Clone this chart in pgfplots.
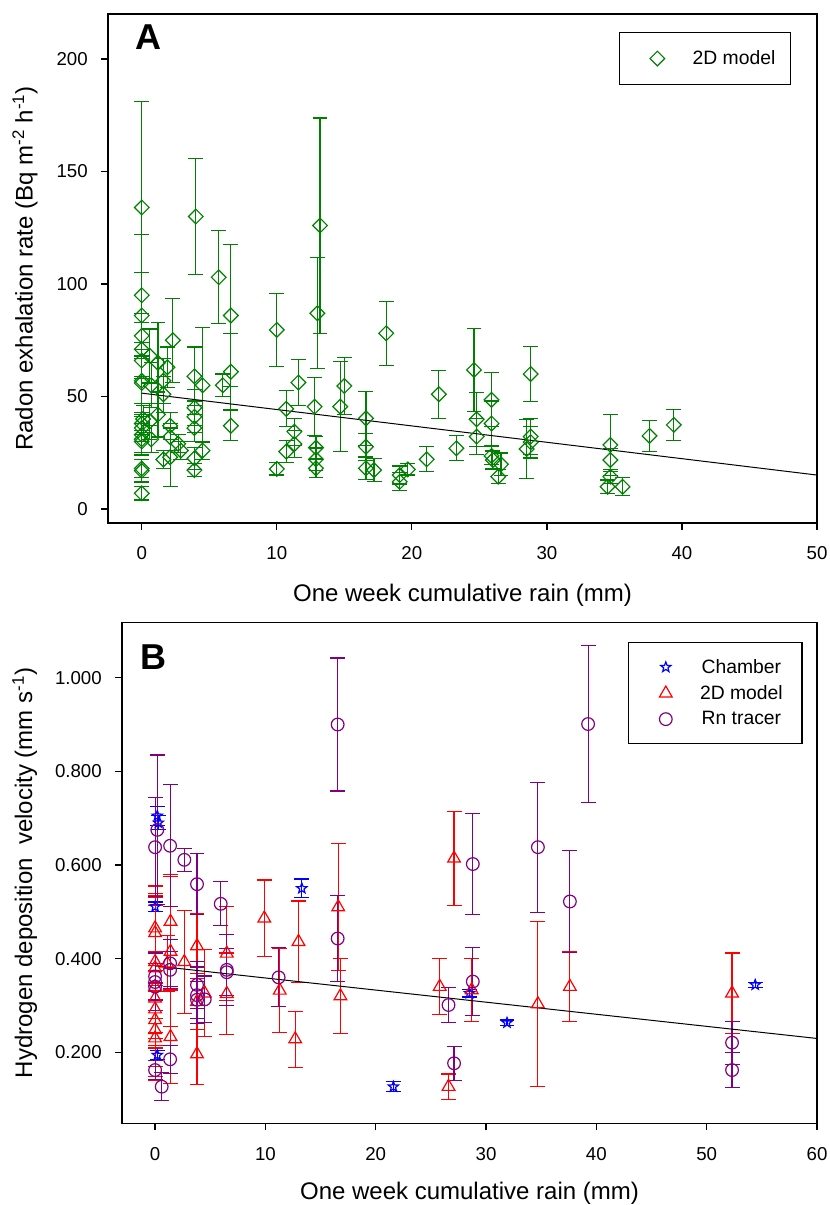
\documentclass[border=0pt]{standalone}
\usepackage{fontspec}
\setmainfont{Liberation Sans}
\usepackage{pgfplots}
\pgfplotsset{compat=1.18}
\definecolor{pgreen}{HTML}{008000}
\definecolor{pred}{HTML}{FF0000}
\definecolor{pblue}{HTML}{0000FF}
\definecolor{ppurple}{HTML}{800080}

% open five-pointed star
\pgfdeclareplotmark{ostar}{%
  \pgfpathmoveto{\pgfqpointpolar{90}{\pgfplotmarksize}}%
  \pgfpathlineto{\pgfqpointpolar{126}{0.42\pgfplotmarksize}}%
  \pgfpathlineto{\pgfqpointpolar{162}{\pgfplotmarksize}}%
  \pgfpathlineto{\pgfqpointpolar{198}{0.42\pgfplotmarksize}}%
  \pgfpathlineto{\pgfqpointpolar{234}{\pgfplotmarksize}}%
  \pgfpathlineto{\pgfqpointpolar{270}{0.42\pgfplotmarksize}}%
  \pgfpathlineto{\pgfqpointpolar{306}{\pgfplotmarksize}}%
  \pgfpathlineto{\pgfqpointpolar{342}{0.42\pgfplotmarksize}}%
  \pgfpathlineto{\pgfqpointpolar{18}{\pgfplotmarksize}}%
  \pgfpathlineto{\pgfqpointpolar{54}{0.42\pgfplotmarksize}}%
  \pgfpathclose
  \pgfusepathqstroke
}

\pgfplotsset{
  panel/.style={
    scale only axis,
    axis line style={line width=0.9pt},
    tick align=outside, tick pos=left,
    major tick length=5.25pt,
    tick style={black, line width=0.9pt},
    tick label style={font=\fontsize{14}{14}\selectfont, inner sep=0pt},
    xticklabel style={yshift=-12.5pt},
    yticklabel style={xshift=-9.75pt},
    label style={font=\fontsize{18}{18}\selectfont},
    /pgf/number format/assume math mode=true,
    ylabel style={anchor=center},
    xlabel style={anchor=center},
  },
  ebars/.style={
    only marks, line width=0.9pt,
    error bars/y dir=both, error bars/y explicit,
    error bars/error bar style={line width=0.85pt},
    error bars/error mark options={rotate=90, mark size=5.6pt, line width=0.85pt},
  },
}

\begin{document}
\begin{tikzpicture}
\useasboundingbox (0,0) rectangle (621.75pt,903.75pt);

% ---------------- panel A ----------------
\begin{axis}[panel,
  at={(81pt,511.5pt)}, anchor=south west,
  width=531.75pt, height=381.75pt,
  xmin=-2.5, xmax=50, ymin=-6.2, ymax=220,
  xtick={0,10,...,50}, ytick={0,50,...,200},
  xlabel={One week cumulative rain (mm)},
  ylabel={Radon exhalation rate (Bq m\textsuperscript{-2} h\textsuperscript{-1})},
  xlabel style={at={(axis description cs:0.5,-0.1415)}},
  ylabel style={at={(axis description cs:-0.117,0.5)}},
  legend style={at={(0.9633,0.9646)}, anchor=north east, draw=black, line width=0.9pt,
    inner xsep=11.25pt, inner ysep=13.5pt, column sep=18pt,
    font=\fontsize{14.5}{17}\selectfont, nodes={inner sep=0pt}},
  legend image code/.code={\path (-16.5pt,0pt) (8pt,0pt); \draw[#1] plot coordinates {(0pt,0pt)};},
]
\addplot[color=pgreen, mark=square, mark size=3.9pt, mark options={rotate=45, solid}, ebars]
  table[x=x, y=y, y error=e] {
x y e
0 134 47
0 95 27
0 86 19
0 77 10
0 71 12
0 66 8
0 57 10
0 56 15
0.1 40 6
0 38 5
0 36 6
0 33 8
0 31 7
0 30 5
0 18 4
0 17 5
0 7 3
0.6 68 12
0.7 55 10
0.6 39 8
0.7 31 6
1.2 65 18
1.2 42 10
1.6 57 10
1.6 51 8
1.6 22 4
1.9 63 9
2.1 37 6
2.1 32 6
2.1 23 13
2.3 75 18.6
2.7 29 4
2.9 26 4
3.9 59 13
3.9 45 8
3.9 41 7
3.9 36 6
3.9 22.5 5
3.9 17.3 3
4.0 130 25.6
4.5 55 25.6
4.5 26 4
5.7 103 20.6
6.0 55 5
6.6 86 31.7
6.6 61 17
6.6 37 6.6
10.0 79.6 16.2
10.0 17.8 2.7
10.7 44.5 8
10.7 25.5 5
11.3 34.4 6
11.3 28.9 6
11.6 56.2 10.3
12.8 45.5 13
12.9 27.3 5
12.9 22.1 5
12.9 18.1 4
13.2 126 47.8
13.0 87 24.7
14.7 45.5 20
15.0 54.7 12.7
16.6 40.3 12
16.6 27.7 6
16.6 18.1 5
17.2 17.3 5
18.1 78.1 14.2
19.1 15.1 4
19.1 12.1 4
19.7 17.6 2.5
21.1 22.1 5.5
22.0 51 10.7
23.3 27 5.5
24.6 61.8 18.5
24.8 39.9 12
24.8 32.2 8
25.9 48.5 12
25.9 38 10
25.9 23.6 4
26.0 21.8 4
26.4 14.4 3
26.6 19.9 5
28.5 26.7 13
28.8 60 12.4
28.8 32.2 8
28.8 29.7 7
34.7 28.5 13.7
34.7 21.8 5
34.7 14.4 3
34.5 9.9 3
35.6 9.9 4
37.6 32.5 7
39.4 37.4 7
};
\addlegendentry{2D model}
\addplot[black, line width=0.75pt, no marks, forget plot] coordinates {(0,51.5) (50,15.1)};
\node[font=\fontsize{27}{27}\bfseries\selectfont] at (rel axis cs:0.0574,0.9548) {A};
\end{axis}

% ---------------- panel B ----------------
\begin{axis}[panel,
  at={(91.5pt,61.3pt)}, anchor=south west,
  width=521.25pt, height=375.45pt,
  xmin=-3, xmax=60, ymin=0.0484, ymax=1.1175,
  xtick={0,10,...,60}, ytick={0.2,0.4,0.6,0.8,1.0},
  yticklabel style={/pgf/number format/.cd, fixed, fixed zerofill, precision=3},
  xlabel={One week cumulative rain (mm)},
  ylabel={Hydrogen deposition\ \ velocity (mm s\textsuperscript{-1})},
  xlabel style={at={(axis description cs:0.5,-0.139)}},
  ylabel style={at={(axis description cs:-0.14,0.5)}},
  legend style={at={(0.9794,0.962)}, anchor=north east, draw=black, line width=0.9pt,
    inner xsep=14.5pt, inner ysep=12.7pt, column sep=17.2pt, row sep=7.6pt,
    font=\fontsize{14.5}{17}\selectfont, nodes={inner sep=0pt}},
  legend image code/.code={\path (-12.8pt,0pt) (8pt,0pt); \draw[#1] plot coordinates {(0pt,0pt)};},
]
\addplot[color=pblue, mark=ostar, mark size=4pt, mark options={solid}, ebars]
  table[x=x, y=y, y error=e] {
x y e
0.2 0.705 0.02
0.3 0.69 0.015
0.0 0.511 0.01
0.2 0.194 0.01
13.3 0.550 0.02
21.6 0.1265 0.011
28.5 0.326 0.008
31.9 0.263 0.006
54.4 0.344 0.005
};
\addlegendentry{Chamber}
\addplot[color=pred, mark=triangle, mark size=5.5pt, mark options={solid}, ebars]
  table[x=x, y=y, y error=e] {
x y e
0 0.465 0.09
0 0.455 0.08
0 0.393 0.12
0 0.38 0.15
0 0.34 0.2
0 0.315 0.1
0 0.292 0.05
0 0.269 0.06
0 0.248 0.1
0 0.230 0.06
1.4 0.479 0.10
1.4 0.415 0.16
1.1 0.39 0.06
1.4 0.233 0.10
2.65 0.393 0.11
3.8 0.427 0.07
3.8 0.308 0.06
3.8 0.196 0.065
4.5 0.326 0.093
6.5 0.411 0.1
6.5 0.325 0.087
9.9 0.486 0.082
11.3 0.332 0.09
12.7 0.228 0.06
13.0 0.436 0.087
16.6 0.510 0.135
16.8 0.320 0.08
25.8 0.340 0.06
27.1 0.614 0.1
26.6 0.1265 0.027
28.7 0.333 0.067
34.7 0.303 0.177
37.6 0.340 0.075
52.3 0.326 0.086
};
\addlegendentry{2D model}
\addplot[color=ppurple, mark=o, mark size=4.75pt, mark options={solid}, ebars]
  table[x=x, y=y, y error=e] {
x y e
0.2 0.675 0.16
0 0.638 0.106
0 0.362 0.05
0 0.350 0.04
0 0.340 0.05
0 0.162 0.02
1.36 0.641 0.13
1.36 0.390 0.05
1.36 0.376 0.04
1.36 0.185 0.03
0.6 0.1265 0.03
2.65 0.611 0.025
3.8 0.559 0.065
3.8 0.344 0.05
3.8 0.322 0.06
3.8 0.312 0.04
4.5 0.313 0.05
5.95 0.517 0.047
6.5 0.376 0.076
6.5 0.371 0.05
11.2 0.360 0.063
16.55 0.900 0.142
16.55 0.443 0.092
26.6 0.301 0.038
27.1 0.1765 0.036
28.8 0.602 0.108
28.8 0.351 0.073
34.7 0.638 0.139
37.6 0.522 0.108
39.25 0.901 0.167
52.3 0.2205 0.046
52.3 0.162 0.038
};
\addlegendentry{Rn tracer}
\addplot[black, line width=0.75pt, no marks, forget plot] coordinates {(0,0.3845) (60,0.2295)};
\node[font=\fontsize{27}{27}\bfseries\selectfont] at (rel axis cs:0.0446,0.9305) {B};
\end{axis}
\end{tikzpicture}
\end{document}
